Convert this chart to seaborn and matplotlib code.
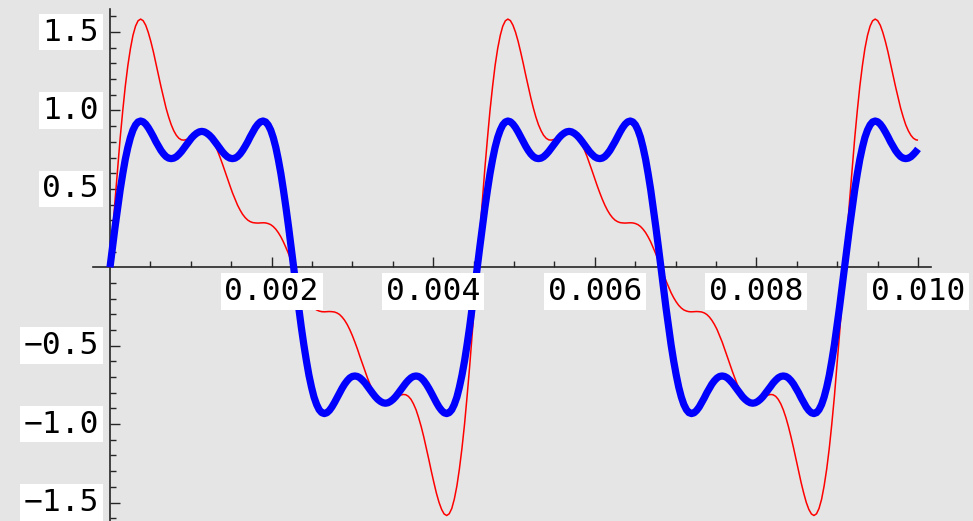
import pandas as pd
import matplotlib
matplotlib.use("Agg")
import matplotlib.pyplot as plt
import seaborn as sns

# time in microseconds (one sample every 2.5 degrees of a 220 Hz cycle)
t_us = [
    0, 32, 63, 95, 126, 158, 189, 221, 253, 284, 316, 347, 379, 410, 442, 473, 505, 537, 568, 600,
    631, 663, 694, 726, 758, 789, 821, 852, 884, 915, 947, 979, 1010, 1042, 1073, 1105, 1136, 1168, 1199, 1231,
    1263, 1294, 1326, 1357, 1389, 1420, 1452, 1484, 1515, 1547, 1578, 1610, 1641, 1673, 1705, 1736, 1768, 1799, 1831, 1862,
    1894, 1926, 1957, 1989, 2020, 2052, 2083, 2115, 2146, 2178, 2210, 2241, 2273, 2304, 2336, 2367, 2399, 2431, 2462, 2494,
    2525, 2557, 2588, 2620, 2652, 2683, 2715, 2746, 2778, 2809, 2841, 2872, 2904, 2936, 2967, 2999, 3030, 3062, 3093, 3125,
    3157, 3188, 3220, 3251, 3283, 3314, 3346, 3378, 3409, 3441, 3472, 3504, 3535, 3567, 3598, 3630, 3662, 3693, 3725, 3756,
    3788, 3819, 3851, 3883, 3914, 3946, 3977, 4009, 4040, 4072, 4104, 4135, 4167, 4198, 4230, 4261, 4293, 4324, 4356, 4388,
    4419, 4451, 4482, 4514, 4545, 4577, 4609, 4640, 4672, 4703, 4735, 4766, 4798, 4830, 4861, 4893, 4924, 4956, 4987, 5019,
    5051, 5082, 5114, 5145, 5177, 5208, 5240, 5271, 5303, 5335, 5366, 5398, 5429, 5461, 5492, 5524, 5556, 5587, 5619, 5650,
    5682, 5713, 5745, 5777, 5808, 5840, 5871, 5903, 5934, 5966, 5997, 6029, 6061, 6092, 6124, 6155, 6187, 6218, 6250, 6282,
    6313, 6345, 6376, 6408, 6439, 6471, 6503, 6534, 6566, 6597, 6629, 6660, 6692, 6723, 6755, 6787, 6818, 6850, 6881, 6913,
    6944, 6976, 7008, 7039, 7071, 7102, 7134, 7165, 7197, 7229, 7260, 7292, 7323, 7355, 7386, 7418, 7449, 7481, 7513, 7544,
    7576, 7607, 7639, 7670, 7702, 7734, 7765, 7797, 7828, 7860, 7891, 7923, 7955, 7986, 8018, 8049, 8081, 8112, 8144, 8176,
    8207, 8239, 8270, 8302, 8333, 8365, 8396, 8428, 8460, 8491, 8523, 8554, 8586, 8617, 8649, 8681, 8712, 8744, 8775, 8807,
    8838, 8870, 8902, 8933, 8965, 8996, 9028, 9059, 9091, 9122, 9154, 9186, 9217, 9249, 9280, 9312, 9343, 9375, 9407, 9438,
    9470, 9501, 9533, 9564, 9596, 9628, 9659, 9691, 9722, 9754, 9785, 9817, 9848, 9880, 9912, 9943, 9975, 10000,
]

# odd harmonics only (thick blue curve)
square_wave = [
    0.000,
    # first cycle
    0.130, 0.258, 0.380, 0.494, 0.597, 0.688, 0.765, 0.828, 0.875, 0.908, 0.927, 0.933, 0.928, 0.913, 0.891, 0.863, 0.833, 0.801,
    0.772, 0.745, 0.723, 0.706, 0.696, 0.693, 0.696, 0.705, 0.720, 0.738, 0.760, 0.782, 0.804, 0.825, 0.842, 0.855, 0.864, 0.867,
    0.864, 0.855, 0.842, 0.825, 0.804, 0.782, 0.760, 0.738, 0.720, 0.705, 0.696, 0.693, 0.696, 0.706, 0.723, 0.745, 0.772, 0.801,
    0.833, 0.863, 0.891, 0.913, 0.928, 0.933, 0.927, 0.908, 0.875, 0.828, 0.765, 0.688, 0.597, 0.494, 0.380, 0.258, 0.130, 0.000,
    -0.130, -0.258, -0.380, -0.494, -0.597, -0.688, -0.765, -0.828, -0.875, -0.908, -0.927, -0.933, -0.928, -0.913, -0.891, -0.863, -0.833, -0.801,
    -0.772, -0.745, -0.723, -0.706, -0.696, -0.693, -0.696, -0.705, -0.720, -0.738, -0.760, -0.782, -0.804, -0.825, -0.842, -0.855, -0.864, -0.867,
    -0.864, -0.855, -0.842, -0.825, -0.804, -0.782, -0.760, -0.738, -0.720, -0.705, -0.696, -0.693, -0.696, -0.706, -0.723, -0.745, -0.772, -0.801,
    -0.833, -0.863, -0.891, -0.913, -0.928, -0.933, -0.927, -0.908, -0.875, -0.828, -0.765, -0.688, -0.597, -0.494, -0.380, -0.258, -0.130, 0.000,
    # second cycle
    0.130, 0.258, 0.380, 0.494, 0.597, 0.688, 0.765, 0.828, 0.875, 0.908, 0.927, 0.933, 0.928, 0.913, 0.891, 0.863, 0.833, 0.801,
    0.772, 0.745, 0.723, 0.706, 0.696, 0.693, 0.696, 0.705, 0.720, 0.738, 0.760, 0.782, 0.804, 0.825, 0.842, 0.855, 0.864, 0.867,
    0.864, 0.855, 0.842, 0.825, 0.804, 0.782, 0.760, 0.738, 0.720, 0.705, 0.696, 0.693, 0.696, 0.706, 0.723, 0.745, 0.772, 0.801,
    0.833, 0.863, 0.891, 0.913, 0.928, 0.933, 0.927, 0.908, 0.875, 0.828, 0.765, 0.688, 0.597, 0.494, 0.380, 0.258, 0.130, 0.000,
    -0.130, -0.258, -0.380, -0.494, -0.597, -0.688, -0.765, -0.828, -0.875, -0.908, -0.927, -0.933, -0.928, -0.913, -0.891, -0.863, -0.833, -0.801,
    -0.772, -0.745, -0.723, -0.706, -0.696, -0.693, -0.696, -0.705, -0.720, -0.738, -0.760, -0.782, -0.804, -0.825, -0.842, -0.855, -0.864, -0.867,
    -0.864, -0.855, -0.842, -0.825, -0.804, -0.782, -0.760, -0.738, -0.720, -0.705, -0.696, -0.693, -0.696, -0.706, -0.723, -0.745, -0.772, -0.801,
    -0.833, -0.863, -0.891, -0.913, -0.928, -0.933, -0.927, -0.908, -0.875, -0.828, -0.765, -0.688, -0.597, -0.494, -0.380, -0.258, -0.130, 0.000,
    # start of third cycle
    0.130, 0.258, 0.380, 0.494, 0.597, 0.688, 0.765, 0.828, 0.875, 0.908, 0.927, 0.933, 0.928, 0.913, 0.891, 0.863, 0.833, 0.801,
    0.772, 0.745, 0.723, 0.706, 0.696, 0.693, 0.696, 0.705, 0.720, 0.738, 0.755,
]

# harmonics 1..5 (thin red curve)
sawtooth = [
    0.000,
    # first cycle
    0.217, 0.430, 0.634, 0.825, 1.000, 1.154, 1.287, 1.395, 1.479, 1.538, 1.572, 1.583, 1.573, 1.544, 1.499, 1.441, 1.374, 1.301,
    1.226, 1.152, 1.081, 1.015, 0.958, 0.909, 0.871, 0.842, 0.823, 0.813, 0.811, 0.815, 0.824, 0.835, 0.847, 0.857, 0.864, 0.867,
    0.864, 0.854, 0.838, 0.814, 0.784, 0.749, 0.708, 0.663, 0.616, 0.569, 0.521, 0.476, 0.435, 0.397, 0.365, 0.338, 0.317, 0.301,
    0.291, 0.285, 0.283, 0.282, 0.283, 0.284, 0.283, 0.279, 0.272, 0.260, 0.243, 0.221, 0.194, 0.162, 0.125, 0.086, 0.043, 0.000,
    -0.043, -0.086, -0.125, -0.162, -0.194, -0.221, -0.243, -0.260, -0.272, -0.279, -0.283, -0.284, -0.283, -0.282, -0.283, -0.285, -0.291, -0.301,
    -0.317, -0.338, -0.365, -0.397, -0.435, -0.476, -0.521, -0.569, -0.616, -0.663, -0.708, -0.749, -0.784, -0.814, -0.838, -0.854, -0.864, -0.867,
    -0.864, -0.857, -0.847, -0.835, -0.824, -0.815, -0.811, -0.813, -0.823, -0.842, -0.871, -0.909, -0.958, -1.015, -1.081, -1.152, -1.226, -1.301,
    -1.374, -1.441, -1.499, -1.544, -1.573, -1.583, -1.572, -1.538, -1.479, -1.395, -1.287, -1.154, -1.000, -0.825, -0.634, -0.430, -0.217, 0.000,
    # second cycle
    0.217, 0.430, 0.634, 0.825, 1.000, 1.154, 1.287, 1.395, 1.479, 1.538, 1.572, 1.583, 1.573, 1.544, 1.499, 1.441, 1.374, 1.301,
    1.226, 1.152, 1.081, 1.015, 0.958, 0.909, 0.871, 0.842, 0.823, 0.813, 0.811, 0.815, 0.824, 0.835, 0.847, 0.857, 0.864, 0.867,
    0.864, 0.854, 0.838, 0.814, 0.784, 0.749, 0.708, 0.663, 0.616, 0.569, 0.521, 0.476, 0.435, 0.397, 0.365, 0.338, 0.317, 0.301,
    0.291, 0.285, 0.283, 0.282, 0.283, 0.284, 0.283, 0.279, 0.272, 0.260, 0.243, 0.221, 0.194, 0.162, 0.125, 0.086, 0.043, 0.000,
    -0.043, -0.086, -0.125, -0.162, -0.194, -0.221, -0.243, -0.260, -0.272, -0.279, -0.283, -0.284, -0.283, -0.282, -0.283, -0.285, -0.291, -0.301,
    -0.317, -0.338, -0.365, -0.397, -0.435, -0.476, -0.521, -0.569, -0.616, -0.663, -0.708, -0.749, -0.784, -0.814, -0.838, -0.854, -0.864, -0.867,
    -0.864, -0.857, -0.847, -0.835, -0.824, -0.815, -0.811, -0.813, -0.823, -0.842, -0.871, -0.909, -0.958, -1.015, -1.081, -1.152, -1.226, -1.301,
    -1.374, -1.441, -1.499, -1.544, -1.573, -1.583, -1.572, -1.538, -1.479, -1.395, -1.287, -1.154, -1.000, -0.825, -0.634, -0.430, -0.217, 0.000,
    # start of third cycle
    0.217, 0.430, 0.634, 0.825, 1.000, 1.154, 1.287, 1.395, 1.479, 1.538, 1.572, 1.583, 1.573, 1.544, 1.499, 1.441, 1.374, 1.301,
    1.226, 1.152, 1.081, 1.015, 0.958, 0.909, 0.871, 0.842, 0.823, 0.813, 0.811,
]

x_labels = ["0.002", "0.004", "0.006", "0.008", "0.010"]
x_label_pos = [0.002, 0.004, 0.006, 0.008, 0.010]
y_labels = ["1.5", "1.0", "0.5", "\u22120.5", "\u22121.0", "\u22121.5"]
y_label_pos = [1.5, 1.0, 0.5, -0.5, -1.0, -1.5]

assert len(t_us) == len(square_wave) == len(sawtooth), (len(t_us), len(square_wave), len(sawtooth))

t = [v / 1e6 for v in t_us]
df = pd.concat([
    pd.DataFrame({"t": t, "value": sawtooth, "series": "sawtooth"}),
    pd.DataFrame({"t": t, "value": square_wave, "series": "square"}),
])

sns.set_style("white")
plt.rcParams["font.family"] = ["DejaVu Sans Mono", "DejaVu Sans"]
plt.rcParams["lines.solid_capstyle"] = "butt"
plt.rcParams["lines.solid_joinstyle"] = "round"

bg = "#e5e5e5"
fig = plt.figure(figsize=(9.73, 5.21), dpi=100, facecolor=bg)
ax = fig.add_axes([0, 0, 1, 1])
ax.set_facecolor(bg)

sns.lineplot(data=df, x="t", y="value", hue="series", size="series",
             palette={"sawtooth": "#ff0000", "square": "#0000ff"},
             sizes={"sawtooth": 1.1, "square": 5.2},
             hue_order=["sawtooth", "square"], size_order=["sawtooth", "square"],
             estimator=None, sort=False, legend=False, ax=ax)

# pixel mapping of the reference: x0 at 110 px, 80.8 px per 0.001; y0 at 267.3 px, 156.8 px per unit
ax.set_xlim(-110 / 80800, 863 / 80800)
ax.set_ylim(-(521 - 267.3) / 156.8, 267.3 / 156.8)
ax.set_xlabel("")
ax.set_ylabel("")

axis_color = "#262626"
for side in ["top", "right"]:
    ax.spines[side].set_visible(False)
ax.spines["left"].set_position(("data", 0))
ax.spines["bottom"].set_position(("data", 0))
ax.spines["left"].set_bounds(-1.7, 1.646)
ax.spines["bottom"].set_bounds(-0.00021, 0.01016)
for side in ["left", "bottom"]:
    ax.spines[side].set_color(axis_color)
    ax.spines[side].set_linewidth(1.2)
    ax.spines[side].set_zorder(1)

ax.set_xticks([0.002, 0.004, 0.006, 0.008, 0.010])
ax.set_xticks([0.0005, 0.001, 0.0015, 0.0025, 0.003, 0.0035, 0.0045, 0.005, 0.0055,
               0.0065, 0.007, 0.0075, 0.0085, 0.009, 0.0095], minor=True)
ax.set_yticks([-1.5, -1.0, -0.5, 0.5, 1.0, 1.5])
ax.set_yticks([-1.6, -1.4, -1.3, -1.2, -1.1, -0.9, -0.8, -0.7, -0.6, -0.4, -0.3, -0.2, -0.1,
               0.1, 0.2, 0.3, 0.4, 0.6, 0.7, 0.8, 0.9, 1.1, 1.2, 1.3, 1.4, 1.6], minor=True)
ax.tick_params(which="both", direction="in", color=axis_color, width=1.0,
               labelbottom=False, labelleft=False, bottom=True, left=True)
ax.tick_params(which="major", length=7.0)
ax.tick_params(which="minor", length=4.3)

box = dict(boxstyle="square,pad=0.12", facecolor="white", edgecolor="none")
for pos, lab in zip(x_label_pos, x_labels):
    ax.text(pos, -0.155, lab, ha="center", va="center", fontsize=22.5,
            color="black", bbox=box, zorder=5)
for pos, lab in zip(y_label_pos, y_labels):
    ax.text(-0.000136, pos, lab, ha="right", va="center", fontsize=22.5,
            color="black", bbox=box, zorder=5)

fig.savefig("out.png", dpi=100, facecolor=bg)
